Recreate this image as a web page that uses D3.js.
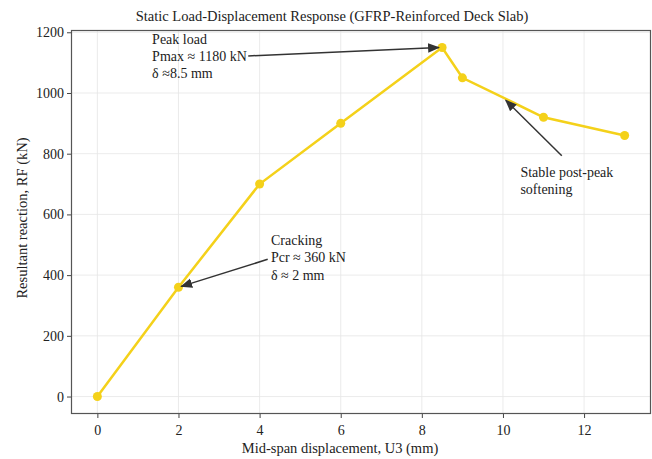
<!DOCTYPE html>
<html><head><meta charset="utf-8">
<script src="https://cdn.jsdelivr.net/npm/d3@7"></script>
<style>body{margin:0;background:#fff}svg{display:block}text{font-family:"Liberation Serif","Times New Roman",serif;}</style>
</head><body>
<script>
const displacement = [0, 2, 4, 6, 8.5, 9, 11, 13];
const reaction = [0, 360, 700, 900, 1150, 1050, 920, 860];
const xTicks = [0, 2, 4, 6, 8, 10, 12];
const yTicks = [0, 200, 400, 600, 800, 1000, 1200];
const annotations = [
  {lines:["Peak load","Pmax \u2248 1180 kN","\u03b4 \u22488.5 mm"], tx:1.35, ty:1163, ax0:3.72, ay0:1122, ax1:8.42, ay1:1150},
  {lines:["Cracking","Pcr \u2248 360 kN","\u03b4 \u2248 2 mm"], tx:4.28, ty:498, ax0:4.2, ay0:452, ax1:2.07, ay1:363},
  {lines:["Stable post-peak","softening"], tx:10.43, ty:724, ax0:11.45, ay0:793, ax1:10.07, ay1:976}
];
const W=652,H=459;
const m={l:71,r:1,t:30,b:45};
const svg=d3.select("body").append("svg").attr("width",W).attr("height",H);
const x=d3.scaleLinear().domain([-0.65,13.65]).range([m.l,W-m.r]);
const y=d3.scaleLinear().domain([-57.5,1207.5]).range([H-m.b,m.t]);
const g=svg.append("g");
// grid
g.selectAll(".gx").data(xTicks).join("line").attr("x1",d=>x(d)).attr("x2",d=>x(d)).attr("y1",m.t).attr("y2",H-m.b).attr("stroke","#e6e6e6").attr("stroke-width",0.8);
g.selectAll(".gy").data(yTicks).join("line").attr("y1",d=>y(d)).attr("y2",d=>y(d)).attr("x1",m.l).attr("x2",W-m.r).attr("stroke","#e6e6e6").attr("stroke-width",0.8);
// axes
const xa=svg.append("g").attr("transform",`translate(0,${H-m.b})`).call(d3.axisBottom(x).tickValues(xTicks).tickFormat(d3.format("d")).tickSize(4).tickPadding(7));
const ya=svg.append("g").attr("transform",`translate(${m.l},0)`).call(d3.axisLeft(y).tickValues(yTicks).tickFormat(d3.format("d")).tickSize(4).tickPadding(3));
[xa,ya].forEach(a=>{a.select(".domain").remove();a.selectAll("line").attr("stroke","#444");a.selectAll("text").attr("fill","#222").style("font-size","14px").style("font-family","Liberation Serif");});
// line
const color="#F4D11A";
svg.append("path").datum(displacement.map((d,i)=>[d,reaction[i]])).attr("fill","none").attr("stroke",color).attr("stroke-width",2.5)
  .attr("d",d3.line().x(d=>x(d[0])).y(d=>y(d[1])));
svg.selectAll(".pt").data(displacement).join("circle").attr("cx",d=>x(d)).attr("cy",(d,i)=>y(reaction[i])).attr("r",4.5).attr("fill",color);
// border
svg.append("rect").attr("x",m.l+0.5).attr("y",m.t+0.5).attr("width",W-m.r-m.l-1).attr("height",H-m.b-m.t-1).attr("fill","none").attr("stroke","#555").attr("stroke-width",1.2);
// arrows
svg.append("defs").append("marker").attr("id","ah").attr("viewBox","0 0 10 10").attr("refX",9).attr("refY",5).attr("markerWidth",8).attr("markerHeight",8).attr("orient","auto")
  .append("path").attr("d","M0,1 L10,5 L0,9 Z").attr("fill","#333");
annotations.forEach(a=>{
  svg.append("line").attr("x1",x(a.ax0)).attr("y1",y(a.ay0)).attr("x2",x(a.ax1)).attr("y2",y(a.ay1)).attr("stroke","#333").attr("stroke-width",1.5).attr("marker-end","url(#ah)");
  const t=svg.append("text").attr("x",x(a.tx)).attr("y",y(a.ty)).attr("fill","#222").style("font-size","14px");
  a.lines.forEach((l,i)=>t.append("tspan").attr("x",x(a.tx)).attr("dy",i?"1.22em":0).text(l));
});
// titles
svg.append("text").attr("x",332).attr("y",21).attr("text-anchor","middle").attr("fill","#222").style("font-size","14.5px").text("Static Load-Displacement Response (GFRP-Reinforced Deck Slab)");
svg.append("text").attr("x",340).attr("y",H-6).attr("text-anchor","middle").attr("fill","#222").style("font-size","14.5px").text("Mid-span displacement, U3 (mm)");
svg.append("text").attr("transform",`translate(27,218) rotate(-90)`).attr("text-anchor","middle").attr("fill","#222").style("font-size","14.5px").text("Resultant reaction, RF (kN)");
</script>
</body></html>
